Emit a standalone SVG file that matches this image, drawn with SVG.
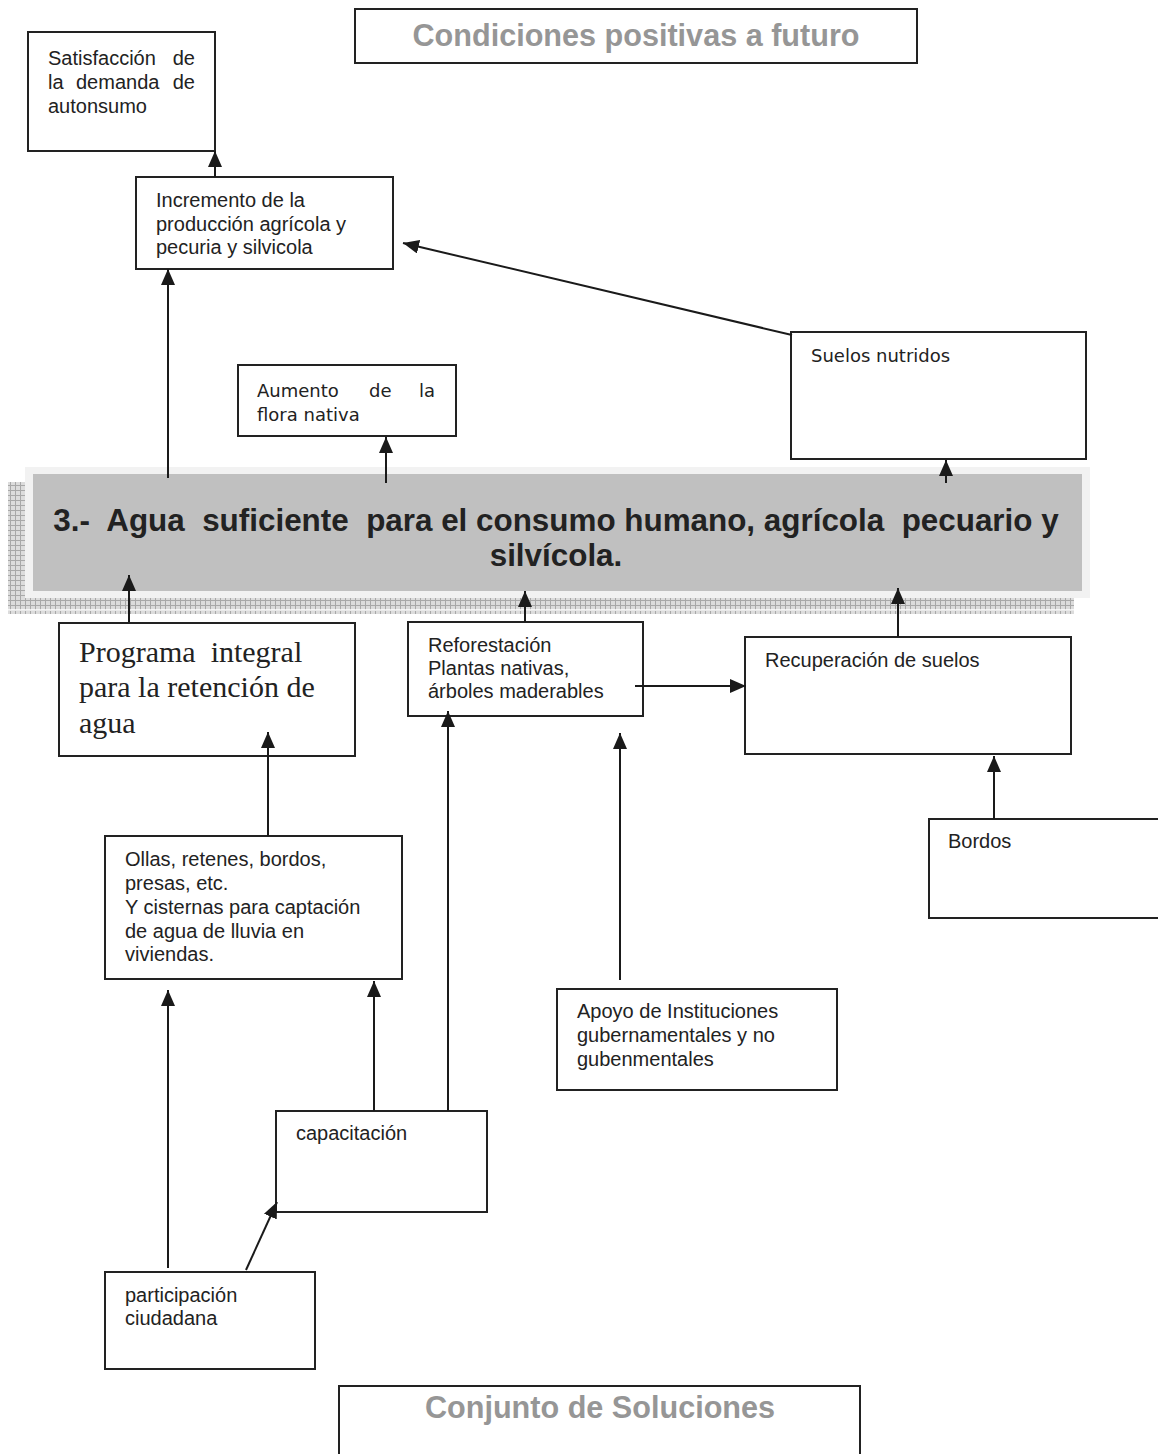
<svg xmlns="http://www.w3.org/2000/svg" width="1158" height="1454" viewBox="0 0 1158 1454">
<style>
.box{fill:#fff;stroke:#222;stroke-width:2}
.t{font-family:"Liberation Sans",Arial,sans-serif;font-size:20px;fill:#222}
.v{font-family:"DejaVu Sans",Verdana,sans-serif;font-size:18px;fill:#222}
.s{font-family:"Liberation Serif","Times New Roman",serif;font-size:30px;fill:#222}
.title{font-family:"Liberation Sans",Arial,sans-serif;font-size:30.6px;font-weight:bold;fill:#969696}
.ban{font-family:"Liberation Sans",Arial,sans-serif;font-size:31.4px;font-weight:bold;fill:#222;white-space:pre}
.c{fill:none;stroke:#1a1a1a;stroke-width:2}
</style>
<defs>
<marker id="ah" markerUnits="userSpaceOnUse" markerWidth="16" markerHeight="14" viewBox="0 0 16 14" refX="16" refY="7" orient="auto">
<path d="M0,0 L16,7 L0,14 z" fill="#1a1a1a"/>
</marker>
<pattern id="hatch" patternUnits="userSpaceOnUse" width="5" height="5">
<rect width="5" height="5" fill="#dcdcdc"/>
<path d="M0,0.5 H5 M0.5,0 V5" stroke="#a8a8a8" stroke-width="1"/>
</pattern>
</defs>

<g id="title-top">
<rect class="box" x="355" y="9" width="562" height="54"/>
<text class="title" x="636" y="46" text-anchor="middle">Condiciones positivas a futuro</text>
</g>

<g id="satisfaccion">
<rect class="box" x="28" y="32" width="187" height="119"/>
<text class="t" x="48" y="65">Satisfacción</text>
<text class="t" x="195" y="65" text-anchor="end">de</text>
<text class="t" x="48" y="89">la</text>
<text class="t" x="76" y="89">demanda</text>
<text class="t" x="195" y="89" text-anchor="end">de</text>
<text class="t" x="48" y="113">autonsumo</text>
</g>

<g id="incremento">
<rect class="box" x="136" y="177" width="257" height="92"/>
<text class="t" x="156" y="207">Incremento de la</text>
<text class="t" x="156" y="231">producción agrícola y</text>
<text class="t" x="156" y="254">pecuria y silvicola</text>
</g>

<g id="suelos-nutridos">
<rect class="box" x="791" y="332" width="295" height="127"/>
<text class="v" x="811" y="362">Suelos nutridos</text>
</g>

<g id="aumento">
<rect class="box" x="238" y="365" width="218" height="71"/>
<text class="v" x="257" y="397">Aumento</text>
<text class="v" x="369" y="397">de</text>
<text class="v" x="435" y="397" text-anchor="end">la</text>
<text class="v" x="257" y="421">flora nativa</text>
</g>

<g id="banner">
<rect x="8" y="482" width="1066" height="132" fill="url(#hatch)"/>
<line x1="8" y1="610" x2="1074" y2="610" stroke="#fff" stroke-width="1.5"/>
<rect x="25" y="467" width="1065" height="131" fill="#f2f2f2"/>
<rect x="33" y="474" width="1049" height="117" fill="#c0c0c0"/>
<text class="ban" x="556" y="531" text-anchor="middle">3.-  Agua  suficiente  para el consumo humano, agrícola  pecuario y</text>
<text class="ban" x="556" y="566" text-anchor="middle">silvícola.</text>
</g>

<g id="programa">
<rect class="box" x="59" y="623" width="296" height="133"/>
<text class="s" x="79" y="662" style="white-space:pre">Programa  integral</text>
<text class="s" x="79" y="697">para la retención de</text>
<text class="s" x="79" y="733">agua</text>
</g>

<g id="reforestacion">
<rect class="box" x="408" y="622" width="235" height="94"/>
<text class="t" x="428" y="652">Reforestación</text>
<text class="t" x="428" y="675">Plantas nativas,</text>
<text class="t" x="428" y="698">árboles maderables</text>
</g>

<g id="recuperacion">
<rect class="box" x="745" y="637" width="326" height="117"/>
<text class="t" x="765" y="667">Recuperación de suelos</text>
</g>

<g id="bordos">
<rect class="box" x="929" y="819" width="240" height="99"/>
<text class="t" x="948" y="848">Bordos</text>
</g>

<g id="ollas">
<rect class="box" x="105" y="836" width="297" height="143"/>
<text class="t" x="125" y="866">Ollas, retenes, bordos,</text>
<text class="t" x="125" y="890">presas, etc.</text>
<text class="t" x="125" y="914">Y cisternas para captación</text>
<text class="t" x="125" y="938">de agua de lluvia en</text>
<text class="t" x="125" y="961">viviendas.</text>
</g>

<g id="apoyo">
<rect class="box" x="557" y="989" width="280" height="101"/>
<text class="t" x="577" y="1018">Apoyo de Instituciones</text>
<text class="t" x="577" y="1042">gubernamentales y no</text>
<text class="t" x="577" y="1066">gubenmentales</text>
</g>

<g id="capacitacion">
<rect class="box" x="276" y="1111" width="211" height="101"/>
<text class="t" x="296" y="1140">capacitación</text>
</g>

<g id="participacion">
<rect class="box" x="105" y="1272" width="210" height="97"/>
<text class="t" x="125" y="1302">participación</text>
<text class="t" x="125" y="1325">ciudadana</text>
</g>

<g id="title-bottom">
<rect class="box" x="339" y="1386" width="521" height="80"/>
<text class="title" x="600" y="1418" text-anchor="middle">Conjunto de Soluciones</text>
</g>

<g id="connectors">
<line class="c" x1="215" y1="177" x2="215" y2="151" marker-end="url(#ah)"/>
<line class="c" x1="168" y1="478" x2="168" y2="269" marker-end="url(#ah)"/>
<line class="c" x1="792" y1="335" x2="403" y2="243" marker-end="url(#ah)"/>
<line class="c" x1="386" y1="483" x2="386" y2="437" marker-end="url(#ah)"/>
<line class="c" x1="946" y1="483" x2="946" y2="460" marker-end="url(#ah)"/>
<line class="c" x1="129" y1="622" x2="129" y2="575" marker-end="url(#ah)"/>
<line class="c" x1="525" y1="622" x2="525" y2="591" marker-end="url(#ah)"/>
<line class="c" x1="898" y1="637" x2="898" y2="588" marker-end="url(#ah)"/>
<line class="c" x1="268" y1="836" x2="268" y2="732" marker-end="url(#ah)"/>
<line class="c" x1="635" y1="686" x2="746" y2="686" marker-end="url(#ah)"/>
<line class="c" x1="994" y1="819" x2="994" y2="756" marker-end="url(#ah)"/>
<line class="c" x1="620" y1="980" x2="620" y2="733" marker-end="url(#ah)"/>
<line class="c" x1="168" y1="1268" x2="168" y2="990" marker-end="url(#ah)"/>
<line class="c" x1="374" y1="1111" x2="374" y2="981" marker-end="url(#ah)"/>
<line class="c" x1="448" y1="1111" x2="448" y2="711" marker-end="url(#ah)"/>
<line class="c" x1="246" y1="1270" x2="277" y2="1202" marker-end="url(#ah)"/>
</g>
</svg>
